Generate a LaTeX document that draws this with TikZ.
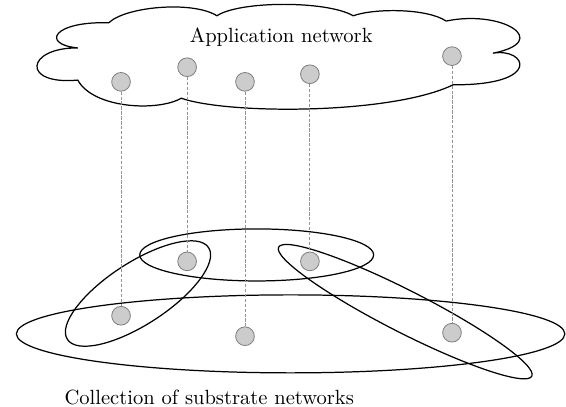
\documentclass[tikz,border=0pt]{standalone}

\tikzset{
    vnode/.style={circle, draw=gray, fill=gray!40, minimum size=0.32cm, inner sep=0pt},
    maplink/.style={gray!85, dash pattern=on 1.6pt off 0.8pt, thin}
}

\begin{document}
\begin{tikzpicture}
                \useasboundingbox (0, 0) rectangle (9.68, 6.96);

                % application network cloud
                \draw[semithick] (1.33, 6.14) .. controls (0.7, 6.2) and (0.9, 6.6) .. (1.86, 6.57)
                    .. controls (2.15, 6.85) and (3.3, 6.95) .. (3.71, 6.69)
                    .. controls (4.1, 6.95) and (5.6, 6.95) .. (6.04, 6.69)
                    .. controls (6.4, 6.82) and (7.3, 6.82) .. (7.63, 6.60)
                    .. controls (8.6, 6.8) and (9.45, 6.25) .. (8.43, 6.05)
                    .. controls (9.0, 6.15) and (9.3, 5.5) .. (7.75, 5.51)
                    .. controls (6.7, 5.0) and (3.9, 5.0) .. (3.10, 5.28)
                    .. controls (2.7, 5.05) and (1.6, 5.1) .. (1.33, 5.59)
                    .. controls (0.35, 5.5) and (0.45, 6.15) .. cycle;
                \node (applabel) at (4.81, 6.33) {Application network};

                % substrate networks
                \draw[semithick] (4.97, 1.25) ellipse (4.69 and 0.667);
                \draw[semithick] (4.39, 2.60) ellipse (2.00 and 0.445);
                \draw[semithick, rotate around={33:(2.36, 1.94)}] (2.36, 1.94) ellipse (1.44 and 0.53);
                \draw[semithick, rotate around={-27:(6.93, 1.63)}] (6.93, 1.63) ellipse (2.43 and 0.36);

                \node[anchor=west] (sublabel) at (0.98, 0.17) {Collection of substrate networks};

                \node[vnode] (app1) at (2.07, 5.56) {};
                \node[vnode] (app2) at (3.20, 5.81) {};
                \node[vnode] (app3) at (4.19, 5.56) {};
                \node[vnode] (app4) at (5.30, 5.69) {};
                \node[vnode] (app5) at (7.73, 6.00) {};

                \node[vnode] (sub1) at (2.07, 1.56) {};
                \node[vnode] (sub2) at (3.20, 2.49) {};
                \node[vnode] (sub3) at (4.19, 1.21) {};
                \node[vnode] (sub4) at (5.30, 2.49) {};
                \node[vnode] (sub5) at (7.73, 1.27) {};

                \foreach \i in {1,...,5}
                    \draw[maplink] (app\i) -- (sub\i);

            \end{tikzpicture}
\end{document}
